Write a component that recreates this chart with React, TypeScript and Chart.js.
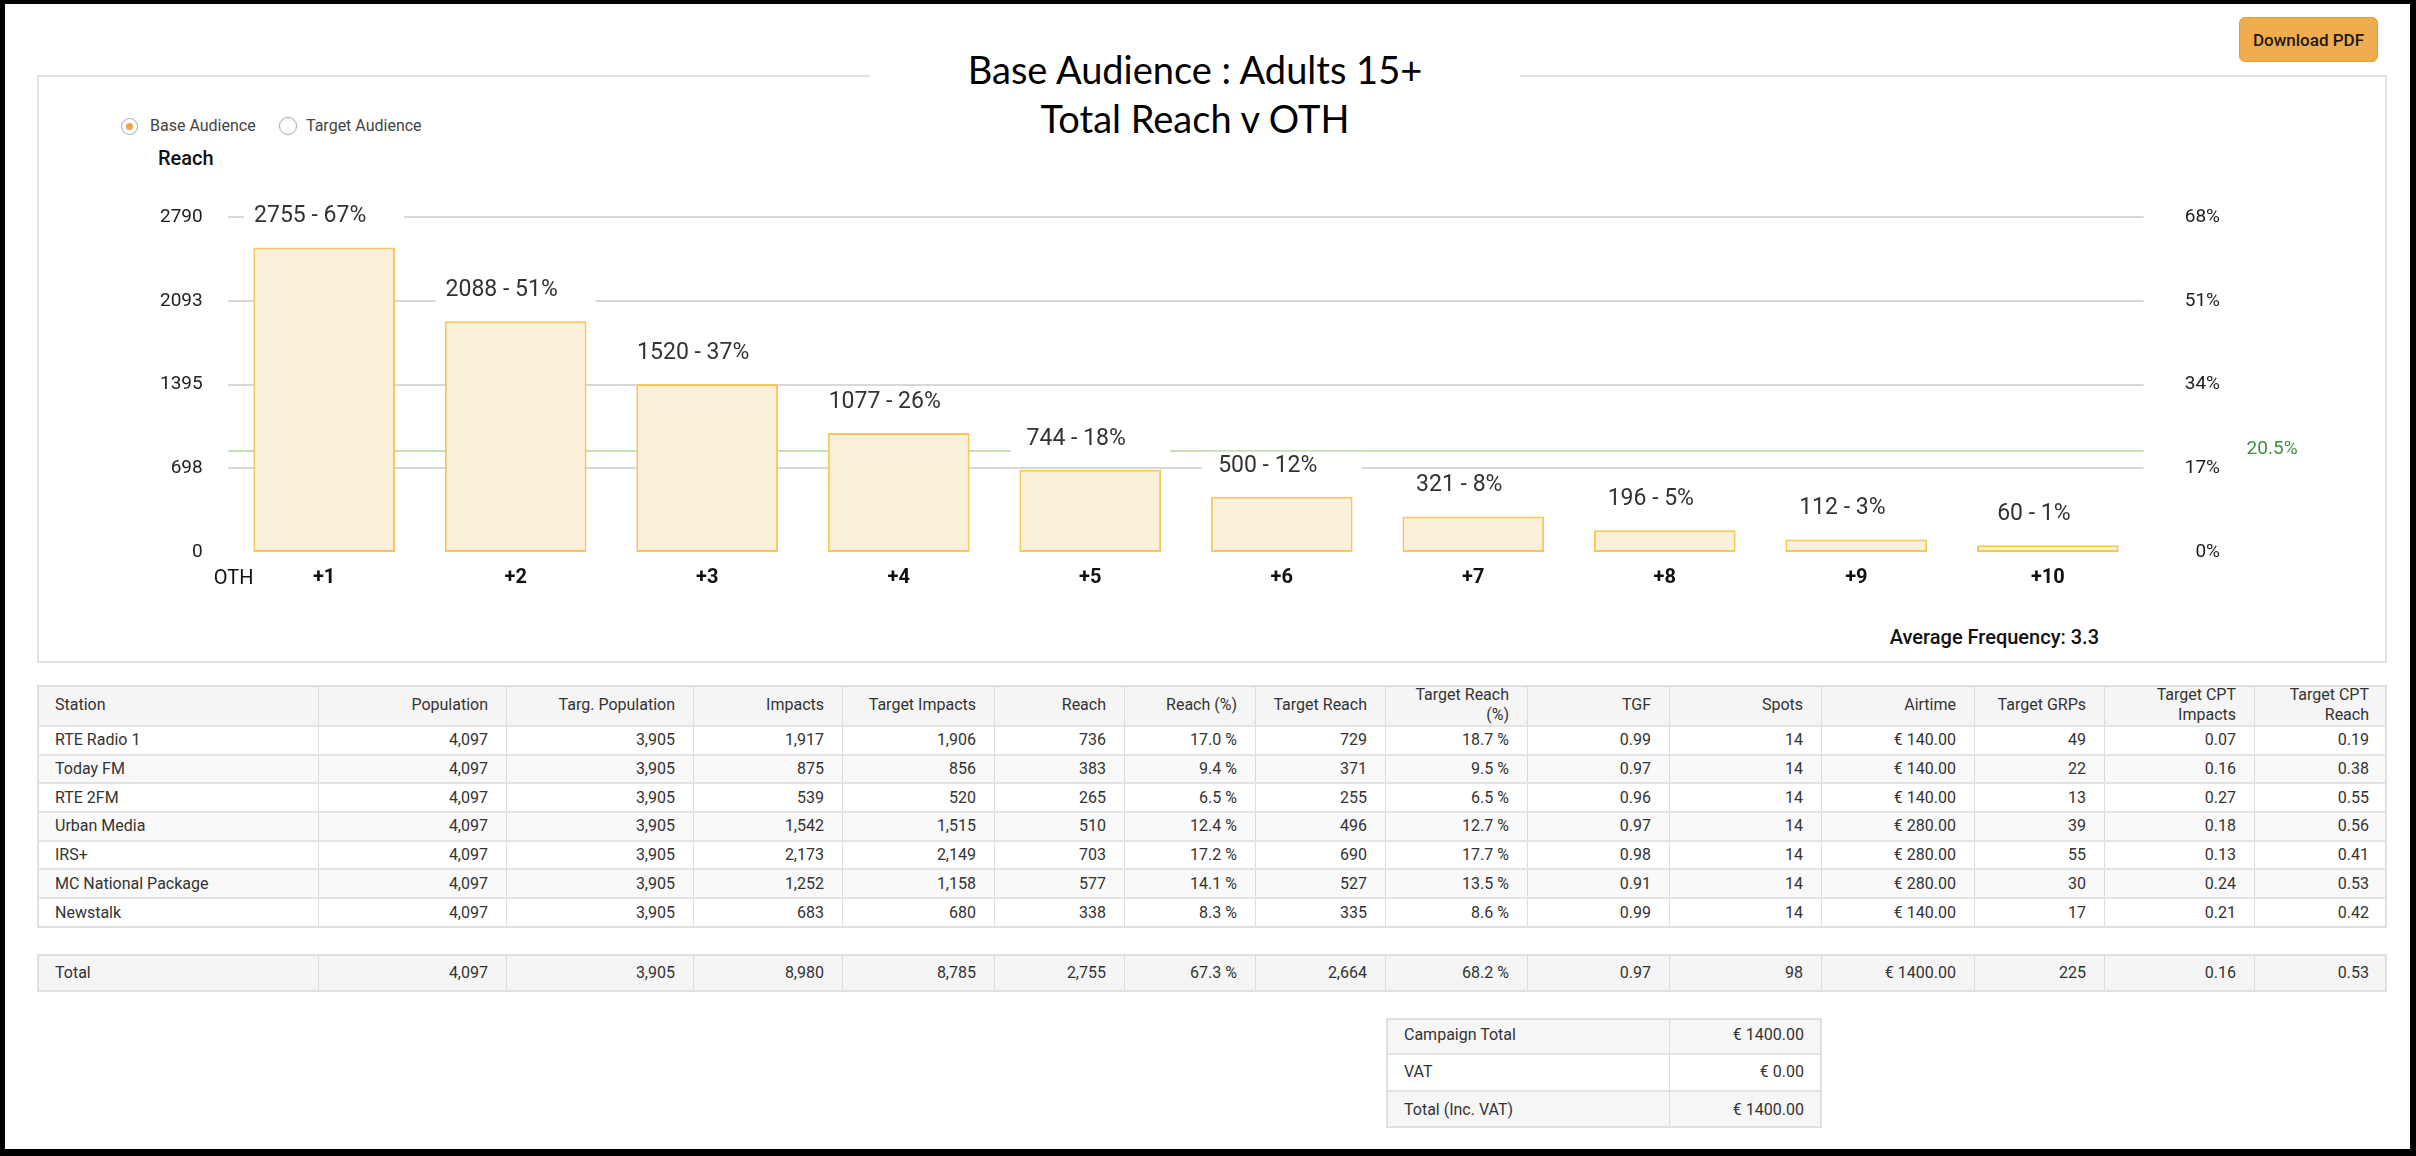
import React, { useEffect, useRef } from 'react';
import { Chart, registerables } from 'chart.js';

Chart.register(...registerables);

// ---------------- Data ----------------
const OTH_LABELS = ['+1', '+2', '+3', '+4', '+5', '+6', '+7', '+8', '+9', '+10'];
const REACH = [2755, 2088, 1520, 1077, 744, 500, 321, 196, 112, 60];
const REACH_PCT = [67, 51, 37, 26, 18, 12, 8, 5, 3, 1];
const REACH_TICKS = [0, 698, 1395, 2093, 2790];
const PCT_TICKS = [0, 17, 34, 51, 68];
const TARGET_LINE_PCT = 20.5;
const AVG_FREQUENCY = '3.3';

const TABLE_HEADERS = [
  'Station', 'Population', 'Targ. Population', 'Impacts', 'Target Impacts', 'Reach', 'Reach (%)',
  'Target Reach', 'Target Reach\n(%)', 'TGF', 'Spots', 'Airtime', 'Target GRPs', 'Target CPT\nImpacts', 'Target CPT\nReach',
];
const STATIONS = ['RTE Radio 1', 'Today FM', 'RTE 2FM', 'Urban Media', 'IRS+', 'MC National Package', 'Newstalk'];
const POPULATION = ['4,097', '4,097', '4,097', '4,097', '4,097', '4,097', '4,097'];
const TARG_POPULATION = ['3,905', '3,905', '3,905', '3,905', '3,905', '3,905', '3,905'];
const IMPACTS = ['1,917', '875', '539', '1,542', '2,173', '1,252', '683'];
const TARGET_IMPACTS = ['1,906', '856', '520', '1,515', '2,149', '1,158', '680'];
const STATION_REACH = ['736', '383', '265', '510', '703', '577', '338'];
const REACH_PERCENT = ['17.0 %', '9.4 %', '6.5 %', '12.4 %', '17.2 %', '14.1 %', '8.3 %'];
const TARGET_REACH = ['729', '371', '255', '496', '690', '527', '335'];
const TARGET_REACH_PERCENT = ['18.7 %', '9.5 %', '6.5 %', '12.7 %', '17.7 %', '13.5 %', '8.6 %'];
const TGF = ['0.99', '0.97', '0.96', '0.97', '0.98', '0.91', '0.99'];
const SPOTS = ['14', '14', '14', '14', '14', '14', '14'];
const AIRTIME = ['€ 140.00', '€ 140.00', '€ 140.00', '€ 280.00', '€ 280.00', '€ 280.00', '€ 140.00'];
const TARGET_GRPS = ['49', '22', '13', '39', '55', '30', '17'];
const TARGET_CPT_IMPACTS = ['0.07', '0.16', '0.27', '0.18', '0.13', '0.24', '0.21'];
const TARGET_CPT_REACH = ['0.19', '0.38', '0.55', '0.56', '0.41', '0.53', '0.42'];
const TOTAL_ROW = ['Total', '4,097', '3,905', '8,980', '8,785', '2,755', '67.3 %', '2,664', '68.2 %', '0.97', '98', '€ 1400.00', '225', '0.16', '0.53'];
const CAMPAIGN_LABELS = ['Campaign Total', 'VAT', 'Total (Inc. VAT)'];
const CAMPAIGN_VALUES = ['€ 1400.00', '€ 0.00', '€ 1400.00'];

// ---------------- Layout helpers ----------------
const COL_X = [37, 319, 507, 694, 843, 995, 1125, 1256, 1386, 1528, 1670, 1822, 1975, 2105, 2255, 2387];
const FONT = 'Roboto, Arial, sans-serif';
const CANVAS_TOP = 180;
const CANVAS_H = 440;

function TableRow(props: { cells: string[]; xs: number[]; height: number; bg: string; last?: boolean }) {
  const { cells, xs, height, bg, last } = props;
  return (
    <div style={{ display: 'flex', height, background: bg, boxSizing: 'border-box', borderBottom: last ? 'none' : '2px solid #e4e4e4' }}>
      {cells.map((c, i) => (
        <div
          key={i}
          style={{
            width: xs[i + 1] - xs[i],
            height: '100%',
            boxSizing: 'border-box',
            borderRight: i < cells.length - 1 ? '1px solid #dcdcdc' : 'none',
            padding: '0 18px',
            display: 'flex',
            alignItems: 'center',
            justifyContent: i === 0 ? 'flex-start' : 'flex-end',
            textAlign: i === 0 ? 'left' : 'right',
            whiteSpace: 'pre',
            lineHeight: '20px',
            fontSize: 16,
            color: '#333',
          }}
        >
          {c}
        </div>
      ))}
    </div>
  );
}

function Table(props: { left: number; top: number; xs: number[]; rows: { cells: string[]; height: number; bg: string }[] }) {
  const { left, top, xs, rows } = props;
  const width = xs[xs.length - 1] - xs[0];
  return (
    <div style={{ position: 'absolute', left, top, width, fontFamily: FONT }}>
      {rows.map((r, i) => (
        <TableRow key={i} cells={r.cells} xs={xs} height={r.height} bg={r.bg} last={i === rows.length - 1} />
      ))}
      <div style={{ position: 'absolute', left: 0, top: 0, right: 0, bottom: 0, border: '2px solid #e0e0e0', pointerEvents: 'none' }} />
    </div>
  );
}

export default function App() {
  const canvasRef = useRef<HTMLCanvasElement | null>(null);

  useEffect(() => {
    const canvas = canvasRef.current;
    if (!canvas) return;

    const annotationPlugin = {
      id: 'reachAnnotations',
      beforeDatasetsDraw(chart: any) {
        const { ctx, chartArea } = chart;
        const y = chart.scales.y1.getPixelForValue(TARGET_LINE_PCT);
        ctx.save();
        ctx.strokeStyle = '#c2e0b9';
        ctx.lineWidth = 2;
        ctx.beginPath();
        ctx.moveTo(chartArea.left, y);
        ctx.lineTo(chartArea.right, y);
        ctx.stroke();
        ctx.fillStyle = '#3d8f3d';
        ctx.font = `19px ${FONT}`;
        ctx.textAlign = 'left';
        ctx.textBaseline = 'middle';
        ctx.fillText(`${TARGET_LINE_PCT}%`, chartArea.right + 103, y - 2);
        ctx.fillStyle = '#111';
        ctx.font = `20px ${FONT}`;
        ctx.textAlign = 'right';
        ctx.fillText('OTH', chartArea.left + 25, chartArea.bottom + 27);
        ctx.restore();
      },
      afterDatasetsDraw(chart: any) {
        const { ctx } = chart;
        const meta = chart.getDatasetMeta(0);
        ctx.save();
        ctx.font = `23px ${FONT}`;
        ctx.textAlign = 'center';
        ctx.textBaseline = 'middle';
        meta.data.forEach((bar: any, i: number) => {
          const x = bar.x;
          const y = bar.y - 31;
          ctx.fillStyle = '#ffffff';
          ctx.fillRect(x - 80, y - 14, 160, 28);
          ctx.fillStyle = '#333333';
          ctx.fillText(`${REACH[i]} - ${REACH_PCT[i]}%`, x - 14, y);
        });
        ctx.restore();
      },
    };

    const chart = new Chart(canvas, {
      type: 'bar',
      data: {
        labels: OTH_LABELS,
        datasets: [
          {
            data: REACH,
            yAxisID: 'yb',
            backgroundColor: '#fbf0da',
            borderColor: '#f8c65a',
            borderWidth: 2,
            borderSkipped: false,
            barPercentage: 0.74,
            categoryPercentage: 1,
          },
        ],
      },
      options: {
        animation: false,
        responsive: false,
        layout: { padding: { top: 10.9, left: 0, right: 167, bottom: 0 } },
        plugins: { legend: { display: false }, tooltip: { enabled: false }, title: { display: false } },
        scales: {
          x: {
            grid: { display: false },
            border: { display: false },
            ticks: { color: '#111', font: { size: 20, weight: 'bold', family: FONT }, padding: 6, maxRotation: 0, autoSkip: false },
            afterFit: (s: any) => { s.height = 68; },
          },
          y: {
            position: 'left',
            min: 0,
            max: REACH_TICKS[REACH_TICKS.length - 1],
            afterBuildTicks: (s: any) => { s.ticks = REACH_TICKS.map((v) => ({ value: v })); },
            ticks: { color: '#222', font: { size: 19, family: FONT }, padding: 25.7, callback: (v: any) => String(v) },
            grid: {
              color: (c: any) => (c.tick && c.tick.value === 0 ? 'rgba(0,0,0,0)' : '#d8d8d8'),
              lineWidth: 2,
              drawTicks: false,
            },
            border: { display: false },
            afterFit: (s: any) => { s.width = 191.4; },
          },
          y1: {
            position: 'right',
            min: 0,
            max: PCT_TICKS[PCT_TICKS.length - 1],
            afterBuildTicks: (s: any) => { s.ticks = PCT_TICKS.map((v) => ({ value: v })); },
            ticks: { color: '#222', font: { size: 19, family: FONT }, crossAlign: 'far', callback: (v: any) => `${v}%` },
            grid: { display: false, drawTicks: false },
            border: { display: false },
            afterFit: (s: any) => { s.width = 76.4; },
          },
          yb: { display: false, min: 0, max: 3031 },
        },
      } as any,
      plugins: [annotationPlugin],
    });

    return () => chart.destroy();
  }, []);

  const bodyRows = STATIONS.map((s, i) => ({
    cells: [s, POPULATION[i], TARG_POPULATION[i], IMPACTS[i], TARGET_IMPACTS[i], STATION_REACH[i], REACH_PERCENT[i], TARGET_REACH[i],
      TARGET_REACH_PERCENT[i], TGF[i], SPOTS[i], AIRTIME[i], TARGET_GRPS[i], TARGET_CPT_IMPACTS[i], TARGET_CPT_REACH[i]],
    height: 28.7,
    bg: i % 2 === 1 ? '#f9f9f9' : '#ffffff',
  }));

  return (
    <div style={{ position: 'absolute', left: 0, top: 0, width: 2416, height: 1156, background: '#fff', overflow: 'hidden', fontFamily: FONT }}>
      {/* panel */}
      <div style={{ position: 'absolute', left: 37, top: 75, width: 2350, height: 588, border: '2px solid #e2e2e2', boxSizing: 'border-box' }} />

      {/* title */}
      <div
        style={{
          position: 'absolute', left: 870, top: 45, width: 650, background: '#fff', textAlign: 'center',
          fontFamily: 'Lato, "Open Sans", sans-serif', fontSize: 38, lineHeight: '49px', color: '#000',
        }}
      >
        Base Audience : Adults 15+
        <br />
        Total Reach v OTH
      </div>

      {/* download button */}
      <div
        style={{
          position: 'absolute', left: 2239, top: 17, width: 139, height: 45, boxSizing: 'border-box',
          background: '#f0ad4e', border: '1px solid #ea9a3a', borderRadius: 6, display: 'flex', alignItems: 'center',
          justifyContent: 'center', fontSize: 17, fontWeight: 500, color: '#1a1a1a',
        }}
      >
        Download PDF
      </div>

      {/* radios */}
      <div style={{ position: 'absolute', left: 121, top: 117.5, width: 17, height: 17, borderRadius: '50%', border: '1px solid #a8a8a8', boxSizing: 'border-box' }}>
        <div style={{ position: 'absolute', left: 4, top: 4, width: 7, height: 7, borderRadius: '50%', background: '#f0a43c' }} />
      </div>
      <div style={{ position: 'absolute', left: 150, top: 116, fontSize: 16, lineHeight: '20px', color: '#444' }}>Base Audience</div>
      <div style={{ position: 'absolute', left: 279, top: 117, width: 18, height: 18, borderRadius: '50%', border: '1px solid #a8a8a8', boxSizing: 'border-box' }} />
      <div style={{ position: 'absolute', left: 306, top: 116, fontSize: 16, lineHeight: '20px', color: '#444' }}>Target Audience</div>

      {/* axis title */}
      <div style={{ position: 'absolute', left: 158, top: 146, fontSize: 20, fontWeight: 500, lineHeight: '24px', color: '#111' }}>Reach</div>

      {/* chart */}
      <canvas ref={canvasRef} width={2350} height={CANVAS_H} style={{ position: 'absolute', left: 37, top: CANVAS_TOP, width: 2350, height: CANVAS_H }} />

      {/* average frequency */}
      <div style={{ position: 'absolute', right: 317, top: 625, fontSize: 20, fontWeight: 500, lineHeight: '24px', color: '#111', whiteSpace: 'nowrap' }}>
        Average Frequency: {AVG_FREQUENCY}
      </div>

      {/* main table */}
      <Table
        left={37}
        top={685}
        xs={COL_X}
        rows={[{ cells: TABLE_HEADERS, height: 42, bg: '#f5f5f5' }, ...bodyRows]}
      />

      {/* total table */}
      <Table left={37} top={954} xs={COL_X} rows={[{ cells: TOTAL_ROW, height: 37.5, bg: '#f5f5f5' }]} />

      {/* campaign table */}
      <Table
        left={1386}
        top={1018}
        xs={[1386, 1670, 1822]}
        rows={CAMPAIGN_LABELS.map((l, i) => ({ cells: [l, CAMPAIGN_VALUES[i]], height: 36.8, bg: i === 1 ? '#ffffff' : '#f6f6f6' }))}
      />

      {/* outer black frame */}
      <div
        style={{
          position: 'absolute', left: 0, top: 0, width: 2416, height: 1156, boxSizing: 'border-box', pointerEvents: 'none',
          borderStyle: 'solid', borderColor: '#000', borderWidth: '4px 6px 7px 5px',
        }}
      />
    </div>
  );
}
